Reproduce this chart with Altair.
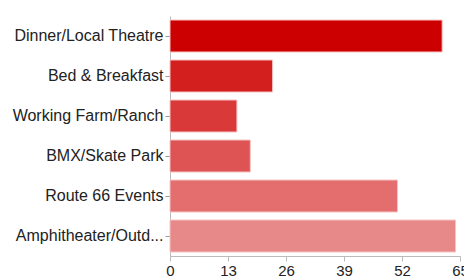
import altair as alt
import pandas as pd

categories = ["Dinner/Local Theatre", "Bed & Breakfast", "Working Farm/Ranch",
              "BMX/Skate Park", "Route 66 Events", "Amphitheater/Outd..."]
values = [61, 23, 15, 18, 51, 64]
colors = ["#cc0000", "#d41f1f", "#d93939", "#de5353", "#e46e6e", "#e88989"]
ticks = [0, 13, 26, 39, 52, 65]

df = pd.DataFrame({"category": categories, "value": values, "color": colors})

chart = alt.Chart(df).mark_bar(stroke="#f4c4c4", strokeWidth=1).encode(
    y=alt.Y("category:N", sort=categories, title=None,
            scale=alt.Scale(paddingInner=0.2, paddingOuter=0.1),
            axis=alt.Axis(labelFont="Liberation Sans", labelFontSize=16,
                          labelColor="#222222", domainColor="#bbbbbb",
                          tickColor="#999999", tickSize=5, labelPadding=2,
                          labelLimit=200)),
    x=alt.X("value:Q", title=None,
            scale=alt.Scale(domain=[0, 65], nice=False),
            axis=alt.Axis(values=ticks, grid=False, labelFont="Liberation Sans",
                          labelFontSize=15, labelColor="#222222",
                          domainColor="#bbbbbb", tickColor="#bbbbbb",
                          tickSize=5, labelPadding=2, labelFlush=False)),
    color=alt.Color("color:N", scale=None),
).properties(
    width=290, height=240,
    autosize=alt.AutoSizeParams(type="none"),
    padding={"left": 162, "top": 8, "right": 4, "bottom": 24},
).configure_view(stroke=None)

chart.save("out.html", embed_options={"renderer": "svg", "actions": False})
